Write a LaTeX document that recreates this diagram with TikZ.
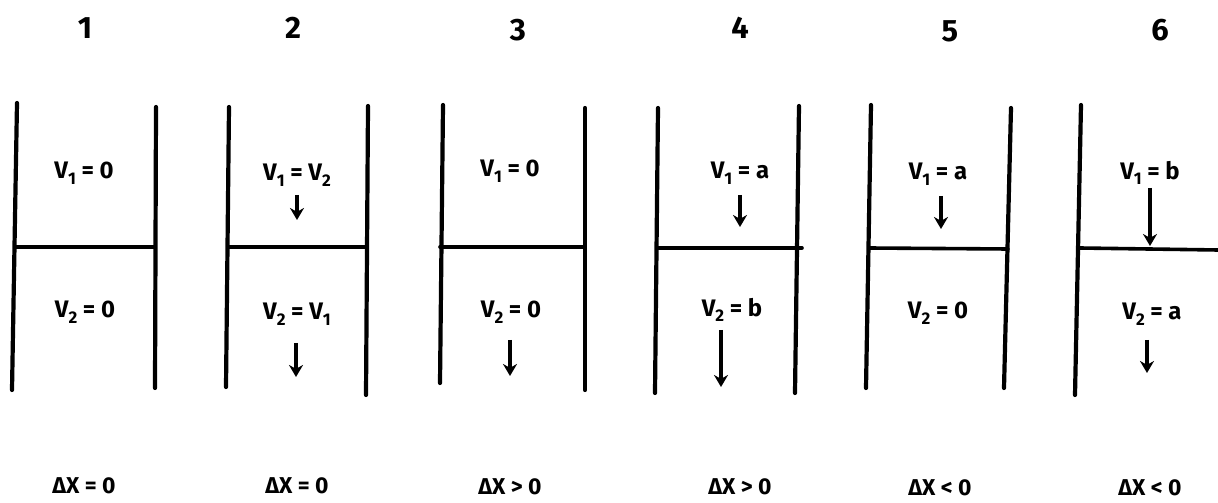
\documentclass[tikz,border=0pt]{standalone}
\usepackage{fontspec}
\setmainfont{Fira Sans}
\usetikzlibrary{arrows.meta}
\newcommand\lowidx[1]{\raisebox{-0.45ex}{\fontsize{17}{17}\selectfont #1}}
\tikzset{
  wall/.style={line width=4.2bp, line cap=round},
  piston/.style={line width=3.6bp, line cap=round},
  motion/.style={line width=3.4bp, -{Stealth[length=12bp,width=14bp]}},
  num/.style={font=\fontsize{31}{31}\selectfont\bfseries, inner sep=0pt},
  vel/.style={font=\fontsize{24}{24}\selectfont\bfseries, inner sep=0pt},
  dx/.style={font=\fontsize{23}{23}\selectfont\bfseries, inner sep=0pt},
}
\begin{document}
\begin{tikzpicture}[x=1bp, y=-1bp]
\useasboundingbox (0,0) rectangle (1218,503);

% ---- column 1 ----
\draw[wall] (17,103) -- (12,390);
\draw[wall] (156,107) -- (155,388);
\draw[piston] (15,247) -- (155,247);
\node[num] (n1) at (85,28) {1};
\node[vel] (v11) at (84,173) {V\lowidx{1} = 0};
\node[vel] (v21) at (85,312) {V\lowidx{2} = 0};
\node[dx]  (d1)  at (84,486) {ΔX = 0};

% ---- column 2 ----
\draw[wall] (229,107) -- (226,387);
\draw[wall] (368,106) -- (366,395);
\draw[piston] (228,247) -- (367,247);
\node[num] (n2) at (293,28) {2};
\node[vel] (v12) at (297,175) {V\lowidx{1} = V\lowidx{2}};
\node[vel] (v22) at (297,314) {V\lowidx{2} = V\lowidx{1}};
\node[dx]  (d2)  at (297,486) {ΔX = 0};
\coordinate (a12s) at (297,195); \coordinate (a12e) at (297,220);
\coordinate (a22s) at (296,343); \coordinate (a22e) at (296,377);
\draw[motion] (a12s) -- (a12e);
\draw[motion] (a22s) -- (a22e);

% ---- column 3 ----
\draw[wall] (443,105) -- (440,383);
\draw[wall] (585,108) -- (585,390);
\draw[piston] (440,247) -- (585,247);
\node[num] (n3) at (518,30) {3};
\node[vel] (v13) at (510,171) {V\lowidx{1} = 0};
\node[vel] (v23) at (511,312) {V\lowidx{2} = 0};
\node[dx]  (d3)  at (510,487) {ΔX > 0};
\coordinate (a23s) at (510,340); \coordinate (a23e) at (510,376);
\draw[motion] (a23s) -- (a23e);

% ---- column 4 ----
\draw[wall] (658,108) -- (655,393);
\draw[wall] (799,106) -- (795,393);
\draw[piston] (658,248) -- (802,248);
\node[num] (n4) at (740,28) {4};
\node[vel] (v14) at (740,173) {V\lowidx{1} = a};
\node[vel] (v24) at (732,310) {V\lowidx{2} = b};
\node[dx]  (d4)  at (740,487) {ΔX > 0};
\coordinate (a14s) at (740,195); \coordinate (a14e) at (740,227);
\coordinate (a24s) at (721,330); \coordinate (a24e) at (721,387);
\draw[motion] (a14s) -- (a14e);
\draw[motion] (a24s) -- (a24e);

% ---- column 5 ----
\draw[wall] (871,105) -- (866,388);
\draw[wall] (1011,108) -- (1004,388);
\draw[piston] (869,248) -- (1008,249);
\node[num] (n5) at (950,31) {5};
\node[vel] (v15) at (938,174) {V\lowidx{1} = a};
\node[vel] (v25) at (938,313) {V\lowidx{2} = 0};
\node[dx]  (d5)  at (940,488) {ΔX < 0};
\coordinate (a15s) at (941,196); \coordinate (a15e) at (941,229);
\draw[motion] (a15s) -- (a15e);

% ---- column 6 ----
\draw[wall] (1081,105) -- (1075,395);
\draw[piston] (1080,248) -- (1218,250);
\node[num] (n6) at (1160,30) {6};
\node[vel] (v16) at (1150,173) {V\lowidx{1} = b};
\node[vel] (v26) at (1152,314) {V\lowidx{2} = a};
\node[dx]  (d6)  at (1150,488) {ΔX < 0};
\coordinate (a16s) at (1150,188); \coordinate (a16e) at (1150,246);
\coordinate (a26s) at (1147,340); \coordinate (a26e) at (1147,373);
\draw[motion] (a16s) -- (a16e);
\draw[motion] (a26s) -- (a26e);
\end{tikzpicture}
\end{document}
